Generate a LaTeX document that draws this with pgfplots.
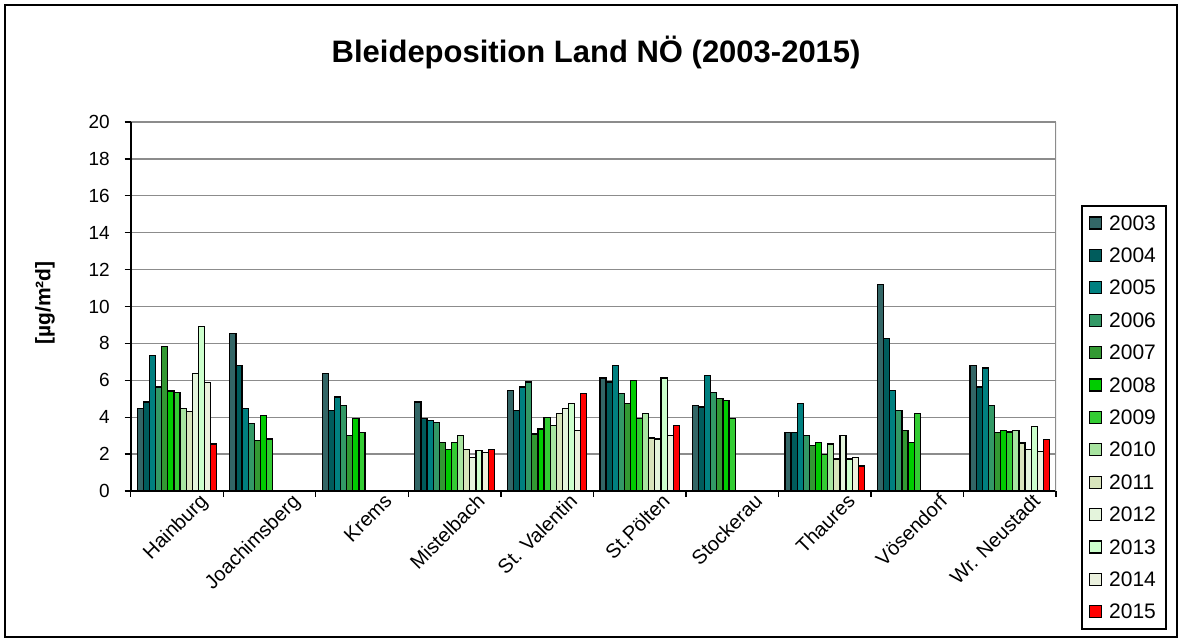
\documentclass[border=0pt]{standalone}
\usepackage{fontspec}
\setmainfont{Liberation Sans}
\usepackage{pgfplots}
\pgfplotsset{compat=1.18}
\definecolor{c2003}{HTML}{336666}
\definecolor{c2004}{HTML}{005C5C}
\definecolor{c2005}{HTML}{008080}
\definecolor{c2006}{HTML}{339966}
\definecolor{c2007}{HTML}{339933}
\definecolor{c2008}{HTML}{00CC00}
\definecolor{c2009}{HTML}{33CC33}
\definecolor{c2010}{HTML}{A8E4A0}
\definecolor{c2011}{HTML}{D8E4BC}
\definecolor{c2012}{HTML}{E4F4DC}
\definecolor{c2013}{HTML}{CCFFCC}
\definecolor{c2014}{HTML}{EBF1DE}
\definecolor{c2015}{HTML}{FF0000}
\definecolor{gridgray}{HTML}{8C8C8C}
\begin{document}
\begin{tikzpicture}
\useasboundingbox (0,0) rectangle (591pt,321pt);
\draw[black, line width=0.75pt] (2.5pt,2.5pt) rectangle (588.5pt,318.5pt);
\begin{axis}[
  at={(65.35pt,75.5pt)}, anchor=south west,
  scale only axis, width=462.65pt, height=184.5pt,
  ybar=0pt, bar width=0.066,
  xmin=-0.5, xmax=9.5, ymin=0, ymax=20,
  ytick={0,2,...,20},
  xtick={-0.5,0.5,...,9.5},
  xticklabels={},
  extra x ticks={0,1,2,3,4,5,6,7,8,9},
  extra x tick labels={Hainburg,Joachimsberg,Krems,Mistelbach,St. Valentin,St.Pölten,Stockerau,Thaures,Vösendorf,Wr. Neustadt},
  extra x tick style={major tick length=0pt, grid=none,
    tick label style={rotate=45, anchor=north east, font=\fontsize{10}{12}\selectfont, xshift=10.5pt, yshift=-4.5pt}},
  axis x line*=bottom, axis y line*=left,
  x axis line style={black, line width=1pt},
  y axis line style={black, line width=1pt},
  tick align=outside, major tick length=3pt,
  tick style={black, line width=0.7pt},
  ymajorgrids, grid style={gridgray, line width=0.7pt},
  /pgf/number format/assume math mode=true,
  yticklabel style={font=\fontsize{9.5}{11}\selectfont, xshift=-4pt},
  ylabel={[µg/m²d]},
  every axis y label/.style={at={(axis description cs:-0.0926,0.51)}, rotate=90, anchor=center, font=\bfseries\fontsize{10.5}{12}\selectfont},
  title={Bleideposition Land NÖ (2003-2015)},
  title style={at={(axis description cs:0.503,1.155)}, anchor=center, font=\bfseries\fontsize{15.5}{18}\selectfont},
  legend style={at={(1.027,0.775)}, anchor=north west, draw=black, line width=1pt,
    font=\fontsize{10.5}{12}\selectfont, row sep=6.2pt, inner xsep=3.5pt, inner ysep=3.5pt,
    nodes={inner sep=1.5pt, text height=7pt, text depth=0pt},
    /tikz/every odd column/.append style={column sep=2pt}},
  legend cell align=left,
  legend image code/.code={\draw[#1, line width=0.6pt] (0pt,-3pt) rectangle (6pt,3pt);},
  every axis plot/.append style={draw=black, line width=0.6pt},
]
\draw[gridgray, line width=0.7pt] (rel axis cs:1,0) -- (rel axis cs:1,1);
\addplot[fill=c2003] coordinates {(0,4.45) (1,8.55) (2,6.36) (3,4.82) (4,5.45) (5,6.13) (6,4.64) (7,3.18) (8,11.18) (9,6.82)};
\addlegendentry{2003}
\addplot[fill=c2004] coordinates {(0,4.82) (1,6.82) (2,4.36) (3,3.91) (4,4.36) (5,5.91) (6,4.55) (7,3.18) (8,8.27) (9,5.64)};
\addlegendentry{2004}
\addplot[fill=c2005] coordinates {(0,7.36) (1,4.45) (2,5.09) (3,3.82) (4,5.64) (5,6.82) (6,6.27) (7,4.73) (8,5.45) (9,6.67)};
\addlegendentry{2005}
\addplot[fill=c2006] coordinates {(0,5.64) (1,3.64) (2,4.64) (3,3.73) (4,5.91) (5,5.27) (6,5.36) (7,3.0) (8,4.36) (9,4.64)};
\addlegendentry{2006}
\addplot[fill=c2007] coordinates {(0,7.82) (1,2.73) (2,3.0) (3,2.64) (4,3.09) (5,4.73) (6,5.0) (7,2.45) (8,3.27) (9,3.18)};
\addlegendentry{2007}
\addplot[fill=c2008] coordinates {(0,5.42) (1,4.09) (2,3.91) (3,2.27) (4,3.36) (5,6.0) (6,4.91) (7,2.64) (8,2.64) (9,3.27)};
\addlegendentry{2008}
\addplot[fill=c2009] coordinates {(0,5.36) (1,2.82) (2,3.18) (3,2.64) (4,4.0) (5,3.91) (6,3.91) (7,2.0) (8,4.18) (9,3.2)};
\addlegendentry{2009}
\addplot[fill=c2010] coordinates {(0,4.45) (3,3.0) (4,3.55) (5,4.18) (7,2.55) (9,3.3)};
\addlegendentry{2010}
\addplot[fill=c2011] coordinates {(0,4.33) (3,2.27) (4,4.18) (5,2.87) (7,1.73) (9,2.6)};
\addlegendentry{2011}
\addplot[fill=c2012] coordinates {(0,6.36) (3,1.82) (4,4.45) (5,2.82) (7,3.0) (9,2.25)};
\addlegendentry{2012}
\addplot[fill=c2013] coordinates {(0,8.9) (3,2.18) (4,4.73) (5,6.13) (7,1.73) (9,3.5)};
\addlegendentry{2013}
\addplot[fill=c2014] coordinates {(0,5.9) (3,2.09) (4,3.27) (5,3.0) (7,1.82) (9,2.15)};
\addlegendentry{2014}
\addplot[fill=c2015] coordinates {(0,2.55) (3,2.27) (4,5.27) (5,3.55) (7,1.36) (9,2.8)};
\addlegendentry{2015}
\end{axis}
\end{tikzpicture}
\end{document}
